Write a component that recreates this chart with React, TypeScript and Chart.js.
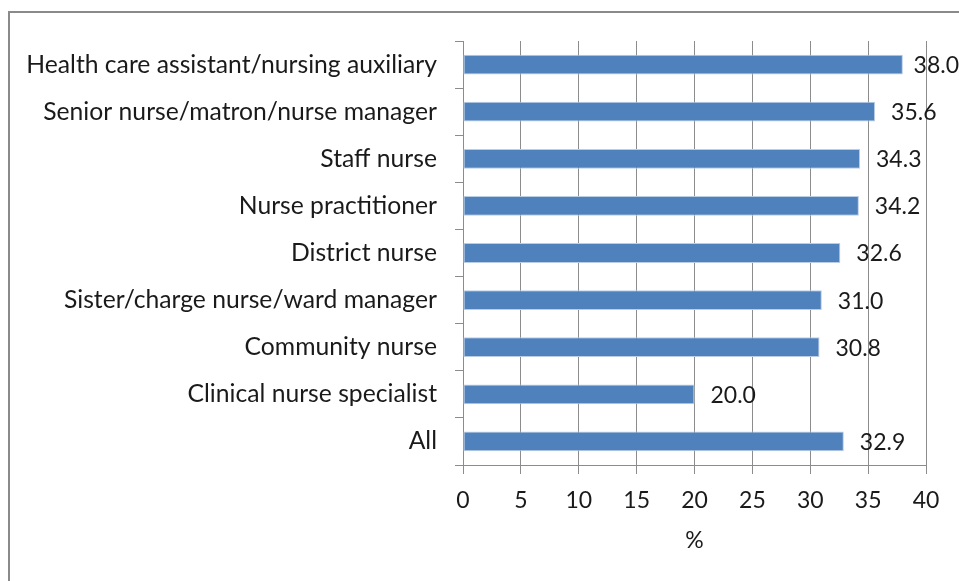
import React, { useEffect, useRef } from "react";
import { Chart, registerables } from "chart.js";

Chart.register(...registerables);

const categories = [
  "Health care assistant/nursing auxiliary",
  "Senior nurse/matron/nurse manager",
  "Staff nurse",
  "Nurse practitioner",
  "District nurse",
  "Sister/charge nurse/ward manager",
  "Community nurse",
  "Clinical nurse specialist",
  "All",
];
const values = [38.0, 35.6, 34.3, 34.2, 32.6, 31.0, 30.8, 20.0, 32.9];
const xTicks = [0, 5, 10, 15, 20, 25, 30, 35, 40];
const xTitle = "%";

const FONT = "Lato, 'Open Sans', sans-serif";
const GRAY = "#8c8c8c";
const TEXT = "#1a1a1a";

const labelPlugin = {
  id: "valueLabels",
  afterDatasetsDraw(chart: any) {
    const ctx = chart.ctx;
    const meta = chart.getDatasetMeta(0);
    ctx.save();
    ctx.font = `23px ${FONT}`;
    ctx.fillStyle = TEXT;
    ctx.textBaseline = "middle";
    ctx.textAlign = "left";
    meta.data.forEach((bar: any, i: number) => {
      const txt = values[i].toFixed(1);
      const w = ctx.measureText(txt).width;
      let x = bar.x + 16;
      if (x + w > chart.width) x = chart.width - w;
      ctx.fillText(txt, x, bar.y + 1);
    });
    ctx.restore();
  },
};

export default function App() {
  const ref = useRef<HTMLCanvasElement>(null);
  useEffect(() => {
    if (!ref.current) return;
    const chart = new Chart(ref.current, {
      type: "bar",
      data: {
        labels: categories,
        datasets: [
          {
            data: values,
            backgroundColor: "#4F81BD",
            borderColor: "#b9cde5",
            borderWidth: 1,
            borderSkipped: false,
            categoryPercentage: 1,
            barPercentage: 0.42,
          },
        ],
      },
      plugins: [labelPlugin],
      options: {
        indexAxis: "y",
        animation: false,
        responsive: false,
        maintainAspectRatio: false,
        layout: { padding: { left: 0, top: 41, right: 33, bottom: 0 } },
        plugins: {
          legend: { display: false },
          tooltip: { enabled: false },
        },
        scales: {
          x: {
            min: 0,
            max: 40,
            afterBuildTicks(scale: any) {
              scale.ticks = xTicks.map((v) => ({ value: v }));
            },
            afterFit(scale: any) {
              scale.height = 116;
            },
            grid: {
              color: GRAY,
              lineWidth: 1,
              tickLength: 9,
              drawOnChartArea: true,
            },
            border: { display: true, color: GRAY, width: 1 },
            ticks: {
              color: TEXT,
              font: { family: FONT, size: 23 },
              padding: 13,
              maxRotation: 0,
            },
            title: {
              display: true,
              text: xTitle,
              color: TEXT,
              font: { family: FONT, size: 23 },
              padding: { top: 0, bottom: 27 },
            },
          },
          y: {
            afterFit(scale: any) {
              scale.width = 463;
            },
            grid: {
              color: GRAY,
              lineWidth: 1,
              tickLength: 8,
              drawOnChartArea: false,
            },
            border: { display: true, color: GRAY, width: 1 },
            ticks: {
              color: TEXT,
              font: { family: FONT, size: 24.7 },
              padding: 18,
            },
          },
        },
      },
    });
    return () => chart.destroy();
  }, []);
  return (
    <div style={{ position: "absolute", left: 0, top: 0, width: 959, height: 581, background: "#fff", overflow: "hidden" }}>
      <div
        style={{
          position: "absolute",
          left: 8,
          top: 11,
          width: 960,
          height: 580,
          borderLeft: "2px solid #8a8a8a",
          borderTop: "2px solid #8a8a8a",
        }}
      />
      <canvas ref={ref} width={959} height={581} style={{ position: "absolute", left: 0, top: 0, display: "block" }} />
    </div>
  );
}
